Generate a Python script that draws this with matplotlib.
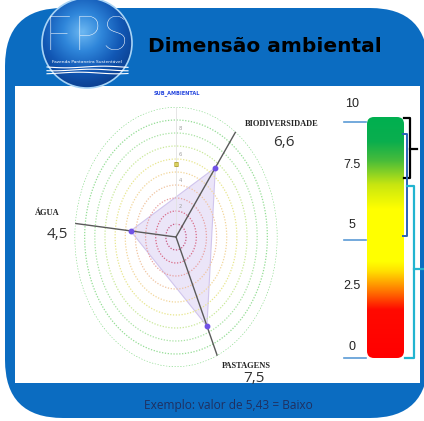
import numpy as np
import matplotlib
matplotlib.use('Agg')
import matplotlib.pyplot as plt
from matplotlib.patches import FancyBboxPatch, Circle, Rectangle
from matplotlib.colors import LinearSegmentedColormap

# radar data
categories = ['BIODIVERSIDADE', 'PASTAGENS', 'ÁGUA']
values = [6.6, 7.5, 4.5]
value_labels = ['6,6', '7,5', '4,5']
ring_levels = [1, 2, 3, 4, 5, 6, 7, 8, 9, 10]
ring_colors = ['#C85A82', '#D86A86', '#E8A0A0', '#F0C4A0', '#F2D69A',
               '#E8E68E', '#C9E99A', '#A9E3A4', '#93DD94', '#82D884']
tick_levels = [2, 4, 6, 8, 10]

# colour scale
scale_ticks = [0, 2.5, 5, 7.5, 10]
scale_labels = ['0', '2.5', '5', '7.5', '10']

W, H = 424, 421
fig = plt.figure(figsize=(W / 100, H / 100), dpi=100)
fig.patch.set_facecolor('white')

bg = fig.add_axes([0, 0, 1, 1])
bg.set_axis_off()

blue = '#0B6CC1'
bg.add_patch(FancyBboxPatch((5, 8), 423, 410, boxstyle='round,pad=0,rounding_size=58',
                            fc=blue, ec='none', zorder=1))
bg.add_patch(Rectangle((15, 86), 405, 297, fc='white', ec='none', zorder=2))

# logo
yy, xx = np.mgrid[-1:1:200j, -1:1:200j]
d = np.sqrt((xx + 0.1) ** 2 + (yy + 0.25) ** 2)
logo_cmap = LinearSegmentedColormap.from_list('logo', ['#6DB8F2', '#2F86DA', '#1258B5', '#0B3E8E'])
logo_im = bg.imshow(d, extent=[42, 132, 88, -2], origin='upper', cmap=logo_cmap,
                    aspect='auto', zorder=3, vmin=0, vmax=1.3)
logo_clip = Circle((87, 43), 45, transform=bg.transData, fc='none', ec='none')
bg.add_patch(logo_clip)
logo_im.set_clip_path(logo_clip)
bg.add_patch(Circle((87, 43), 45, fc='none', ec='#A8D4F6', lw=1.2, zorder=4))
for ch, x in zip('FPS', [58, 87, 115]):
    bg.text(x, 37, ch, color='white', fontsize=34, family=['Lato', 'DejaVu Sans'],
            fontweight='light', ha='center', va='center', zorder=5)
bg.text(87, 62, 'Fazenda Pantaneira Sustentável', color='white', fontsize=3.2,
        ha='center', va='center', zorder=5)
wx = np.linspace(47, 128, 60)
for k in range(3):
    bg.plot(wx, 67 + k * 3 + 0.8 * np.sin((wx - 47) / 12 + k), color='white', lw=0.8, zorder=5)

bg.text(148, 46, 'Dimensão ambiental', fontsize=14.5, fontweight='bold', color='black',
        ha='left', va='center', zorder=5)
bg.text(228, 405, 'Exemplo: valor de 5,43 = Baixo', fontsize=8.6, color='#1F3060',
        family=['Open Sans', 'DejaVu Sans'], ha='center', va='center', zorder=5)

# colour scale bar
cb_cmap = LinearSegmentedColormap.from_list('scale', [
    (0.0, '#FF0000'), (0.2, '#FF0A00'), (0.28, '#FF7A00'), (0.36, '#FFE000'),
    (0.40, '#FFFF00'), (0.62, '#FFFF00'), (0.72, '#C8E610'), (0.82, '#48BC3A'),
    (0.90, '#0AAE4E'), (1.0, '#00B050')])
grad = np.linspace(0, 1, 256).reshape(-1, 1)
cb_im = bg.imshow(grad, extent=[367, 404, 358, 117], origin='lower', cmap=cb_cmap,
                  aspect='auto', zorder=3)
cb_clip = FancyBboxPatch((367, 117), 37, 241, boxstyle='round,pad=0,rounding_size=7',
                         transform=bg.transData, fc='none', ec='none')
bg.add_patch(cb_clip)
cb_im.set_clip_path(cb_clip)

for v, lab in zip(scale_ticks, scale_labels):
    bg.text(352, 347 - v * 24.3, lab, fontsize=9, color='#222222',
            family=['Liberation Sans Narrow', 'Liberation Sans'], ha='center', va='center', zorder=5)
for v in [0, 5, 10]:
    bg.plot([344, 366], [358 - v * 23.6] * 2, color='#5B9BD5', lw=1.2, zorder=4)

# brackets
bg.plot([404, 410, 410, 404], [118, 118, 178, 178], color='black', lw=1.6, zorder=4)
bg.plot([410, 417], [149, 149], color='black', lw=1.6, zorder=4)
bg.plot([403, 407, 407, 403], [134, 134, 236, 236], color='#2A62B8', lw=1.4, zorder=4)
bg.plot([407, 414, 414, 405], [186, 186, 358, 358], color='#22B4D0', lw=1.6, zorder=4)
bg.plot([414, 424], [269, 269], color='#22B4D0', lw=1.6, zorder=4)

bg.text(177, 93, 'SUB_AMBIENTAL', fontsize=3.6, fontweight='bold', color='#2244DD',
        ha='center', va='center', zorder=5)

bg.set_xlim(0, W)
bg.set_ylim(H, 0)

# radar chart
ax = fig.add_axes([74.5 / W, 1 - 367 / H, 203 / W, 260 / H], projection='polar')
ax.set_aspect('auto')
ax.patch.set_alpha(0)
ax.set_theta_direction(-1)
ax.set_theta_offset(np.deg2rad(90 - 36))
ax.grid(False)
ax.spines['polar'].set_visible(False)
ax.set_xticks([])
ax.set_yticks([])

theta = np.deg2rad([0, 120, 240])
north = np.deg2rad(-36)
th = np.linspace(0, 2 * np.pi, 300)
for r, c in zip(ring_levels, ring_colors):
    ax.plot(th, np.full_like(th, r), linestyle=(0, (1, 1.3)), color=c, lw=0.9)
ax.plot([north, north], [0, 10], color='#E2E2E2', lw=0.6)
for r in tick_levels:
    ax.annotate(str(r), (north, r + 0.35), xytext=(4, 0), textcoords='offset pixels',
                fontsize=3.8, color='#A0A0A0', ha='center', va='center')
ax.plot([north], [5.6], marker='s', ms=3, color='#D8D060', mec='#B8A840', mew=0.4)

tc = np.append(theta, theta[0])
vc = np.append(values, values[0])
ax.fill(tc, vc, facecolor='#E8E1F7', alpha=0.85, edgecolor='#CABDEB', lw=0.8)
for t in theta:
    ax.plot([t, t], [0, 10], color='#5A5A5A', lw=1.0)
ax.plot(theta, values, 'o', ms=3.2, color='#7152E6')

name_off = [(46, 8), (29, -10), (-28, 10)]
val_off = [(48, -11), (37, -23), (-18, -11)]
for t, name, lab, no, vo in zip(theta, categories, value_labels, name_off, val_off):
    ax.annotate(name, (t, 10), xytext=no, textcoords='offset pixels', fontsize=6,
                fontweight='bold', family=['Liberation Serif', 'DejaVu Serif'],
                color='#222222', ha='center', va='center')
    ax.annotate(lab, (t, 10), xytext=vo, textcoords='offset pixels', fontsize=11,
                family=['Open Sans', 'DejaVu Sans'], color='#333333', ha='center', va='center')
ax.set_ylim(0, 10)

fig.savefig('out.png', dpi=100)
